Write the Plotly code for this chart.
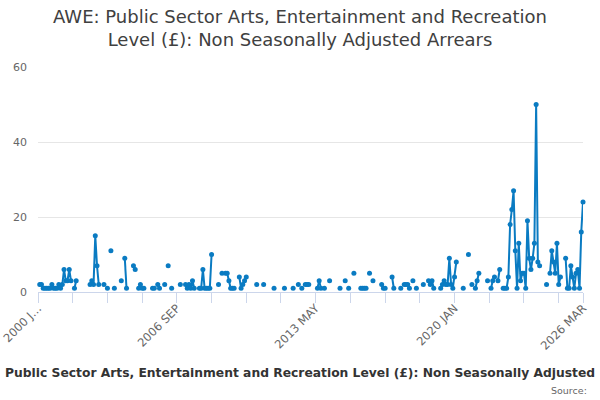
import plotly.graph_objects as go

# monthly categories, 2000 JAN .. 2026 MAR
MONTH_NAMES = ["JAN", "FEB", "MAR", "APR", "MAY", "JUN",
               "JUL", "AUG", "SEP", "OCT", "NOV", "DEC"]
months = [f"{y} {m}" for y in range(2000, 2027) for m in MONTH_NAMES][:315]

N = None
# one row per year (12 months), values in £
arrears = [
    N, 2, 2, 1, 1, 1, 1, 1, 2, 1, 1, 1,          # 2000
    2, 1, 2, 6, 3, 3, 6, 3, N, 1, 3, N,          # 2001
    N, N, N, N, N, N, 2, 3, 2, 15, 7, 2,         # 2002
    N, N, 2, N, 1, N, 11, N, 1, N, N, N,         # 2003
    3, N, 9, 1, N, N, N, 7, 6, N, 1, 2,          # 2004
    1, 1, N, N, N, N, 1, 1, N, 2, 1, N,          # 2005
    N, 2, N, 7, N, 1, N, N, N, N, 2, N,          # 2006
    N, 2, 1, 2, 1, 3, 1, N, N, 1, 1, 6,          # 2007
    1, 1, 1, 1, 10, N, N, N, 2, N, 5, N,         # 2008
    5, 5, 3, 1, 1, 1, N, N, 4, 1, 2, 3,          # 2009
    4, N, N, N, N, N, 2, N, N, N, 2, N,          # 2010
    N, N, N, N, 1, N, N, N, N, N, 1, N,          # 2011
    N, N, N, 1, N, N, 2, N, 1, N, 2, 2,          # 2012
    2, N, N, N, N, 1, 3, 1, N, 1, N, N,          # 2013
    3, N, N, N, N, N, 1, N, N, 3, N, 1,          # 2014
    N, N, 5, N, N, N, 1, 1, 1, 1, N, 5,          # 2015
    N, 3, N, N, N, N, 2, 1, 1, N, N, N,          # 2016
    4, 1, N, N, N, 1, N, 2, 2, 2, 1, N,          # 2017
    3, N, 1, N, N, N, 2, N, N, 3, 2, 3,          # 2018
    1, N, N, N, 1, 2, 3, 2, 2, 9, 2, 1,          # 2019
    4, 8, N, N, N, 1, N, N, 10, N, 2, N,         # 2020
    1, 3, 5, N, N, N, N, 3, N, 1, 3, 4,          # 2021
    N, 3, 6, N, 1, 1, 1, 4, 18, 22, 27, 11,      # 2022
    1, 13, 3, 5, 5, 1, 19, 9, 6, 9, 13, 50,      # 2023
    8, 7, N, N, N, 2, N, 5, 11, 8, 5, 13,        # 2024
    2, 4, N, N, 9, 1, 1, 7, 4, 1, 5, 6,          # 2025
    1, 16, 24,                                   # 2026
]

title_text = ("AWE: Public Sector Arts, Entertainment and Recreation<br>"
              "Level (£): Non Seasonally Adjusted Arrears")
series_name = ("Public Sector Arts, Entertainment and Recreation Level (£): "
               "Non Seasonally Adjusted")

# ticks every 20 months, labels every 80 months plus the last month
tick_vals = months[0:301:20] + [months[-1]]
tick_text = []
for i, m in enumerate(tick_vals):
    if i == 0:
        tick_text.append("2000 J…")
    elif i % 4 == 0 or i == len(tick_vals) - 1:
        tick_text.append(m)
    else:
        tick_text.append("")

LINE_COLOR = "#0a7bc2"
FONT = "DejaVu Sans"

fig = go.Figure()
fig.add_trace(go.Scatter(
    x=months,
    y=arrears,
    mode="lines+markers",
    line=dict(color=LINE_COLOR, width=2),
    marker=dict(color=LINE_COLOR, size=5),
    connectgaps=False,
    cliponaxis=False,
    showlegend=False,
    name=series_name,
))

fig.update_xaxes(
    type="category",
    categoryorder="array",
    categoryarray=months,
    range=[0, len(months) - 1],
    tickmode="array",
    tickvals=tick_vals,
    ticktext=tick_text,
    tickangle=-45,
    ticks="outside",
    ticklen=10,
    tickcolor="#ccd6eb",
    ticklabelstandoff=-6,
    showline=True,
    linecolor="#ccd6eb",
    linewidth=1,
    showgrid=False,
    automargin=False,
    tickfont=dict(family=FONT, size=11.5, color="#666666"),
)
fig.update_yaxes(
    range=[0, 60],
    tickvals=[0, 20, 40, 60],
    showgrid=True,
    gridcolor="#e6e6e6",
    zeroline=False,
    showline=False,
    automargin=False,
    ticklabelstandoff=10,
    tickfont=dict(family=FONT, size=11, color="#666666"),
)

fig.update_layout(
    width=600,
    height=400,
    margin=dict(l=38, r=17, t=67, b=108),
    paper_bgcolor="white",
    plot_bgcolor="white",
    font=dict(family=FONT),
)

fig.add_annotation(
    text=title_text,
    xref="paper", yref="paper",
    x=0.5, y=1, xanchor="center", yanchor="middle",
    xshift=-10.5, yshift=39,
    showarrow=False,
    font=dict(family=FONT, size=18, color="#404040"),
)
fig.add_annotation(
    text="<b>" + series_name + "</b>",
    xref="paper", yref="paper",
    x=0, y=0, xanchor="left", yanchor="middle",
    xshift=-35, yshift=-81,
    showarrow=False,
    font=dict(family=FONT, size=12.3, color="#333333"),
)
fig.add_annotation(
    text="Source:",
    xref="paper", yref="paper",
    x=1, y=0, xanchor="right", yanchor="middle",
    xshift=6, yshift=-98,
    showarrow=False,
    font=dict(family=FONT, size=9.5, color="#666666"),
)

# drop the browser's default 8px body margin so the figure fills the window
fig.write_html(
    "out.html",
    config={"displayModeBar": False},
    post_script="document.body.style.margin = '0';",
)
